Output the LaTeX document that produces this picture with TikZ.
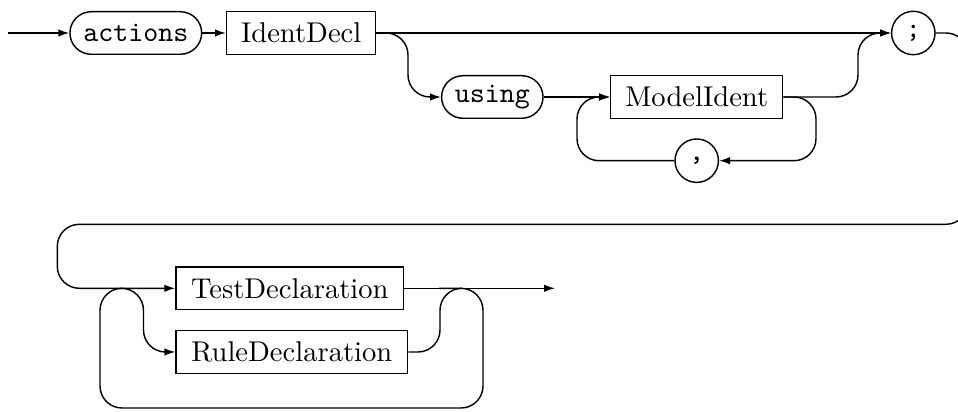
\documentclass[tikz,border=0pt]{standalone}
\usetikzlibrary{arrows.meta}
\begin{document}
\begin{tikzpicture}[x=0.35pt,y=-0.35pt, line width=0.5pt,
  nt/.style={draw, rectangle, minimum height=14.9pt, inner sep=0pt, font=\rmfamily},
  term/.style={draw, rectangle, rounded corners=7.45pt, minimum height=14.9pt, inner sep=0pt, font=\ttfamily},
  tcirc/.style={draw, circle, minimum size=15.2pt, inner sep=0pt, font=\ttfamily},
  arr/.style={-{Latex[length=3.8pt,width=2.6pt]}},
  conn/.style={rounded corners=7.7pt}]
\useasboundingbox (0,0) rectangle (958,412);
\clip (0,0) rectangle (958,412);
\node[term, minimum width=46.1pt] (actions) at (135.8,33) {actions};
\node[nt, minimum width=52.2pt] (ident) at (301.2,33) {IdentDecl};
\node[term, minimum width=35.5pt] (using) at (492.3,97) {using};
\node[nt, minimum width=60.2pt] (model) at (696.7,97) {ModelIdent};
\node[tcirc] (comma) at (696.7,160.7) {,};
\node[tcirc] (semi) at (913.3,33) {;};
\node[nt, minimum width=79.7pt] (test) at (289.8,288.3) {TestDeclaration};
\node[nt, minimum width=81.1pt] (rule) at (291.8,352) {RuleDeclaration};
\coordinate (start) at (8,33);
\coordinate (end) at (555,288.3);
\coordinate (lj) at (439,288.3);
\coordinate (rj) at (462,288.3);
\draw[arr] (start) -- (actions);
\draw[arr] (actions) -- (ident);
\draw[arr] (ident) -- (semi);
\draw[arr,conn] (ident.east) -| (408,97) -- (using.west);
\draw[arr] (using) -- (model);
\draw[arr,conn] (model.east) -- (858,97) -- (858,33) -- (semi.west);
\draw[arr,conn] (model.east) -- (816,97) -- (816,160.7) -- (comma.east);
\draw[arr,conn] (comma.west) -- (577,160.7) -- (577,97) -- (model.west);
\draw[arr,conn] (semi.east) -- (968,33) -- (968,224.3) -- (57.3,224.3) -- (57.3,288.3) -- (test.west);
\draw[arr] (test.east) -- (end);
\draw[arr,conn] (lj) -- (483,288.3) -- (483,408) -- (100,408) -- (100,288.3) -- (143.5,288.3) -- (143.5,352) -- (rule.west);
\draw[conn] (rule.east) -- (440,352) -- (440,288.3) -- (rj);
\end{tikzpicture}
\end{document}
